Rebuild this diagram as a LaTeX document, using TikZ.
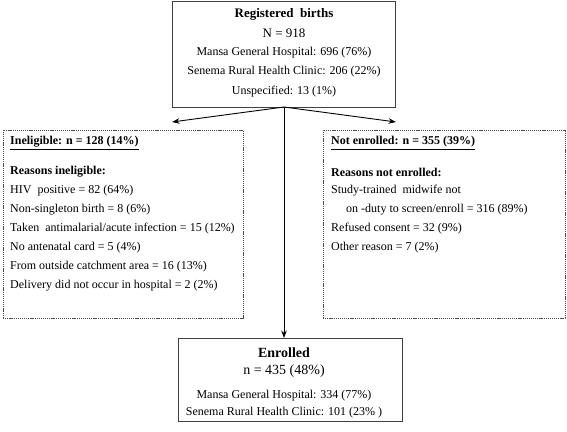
\documentclass[tikz,border=0pt]{standalone}
\usepackage{fontspec}
\setmainfont{Liberation Serif}
\usetikzlibrary{arrows.meta}
\begin{document}
\begin{tikzpicture}[x=1pt,y=-1pt,
  solidbox/.style={draw=black!75, line width=0.8pt, rectangle, inner sep=0pt},
  dashbox/.style={draw=black!70, line width=0.6pt, dash pattern=on 1.2pt off 0.9pt, rectangle, inner sep=0pt},
  ctext/.style={inner sep=0pt, anchor=center, font=\fontsize{12}{14}\selectfont},
  ltext/.style={inner sep=0pt, anchor=west, font=\fontsize{12}{14}\selectfont},
  head/.style={inner sep=0pt, anchor=center, font=\fontsize{13}{15}\selectfont\bfseries},
  arr/.style={-{Stealth[length=7.5pt,width=5.5pt]}, line width=0.9pt, black}
]
\useasboundingbox (0,0) rectangle (567,431);
\fill[white] (0,0) rectangle (567,431);

% boxes
\node[solidbox, minimum width=223pt, minimum height=106pt] (reg) at (283.5,54) {};
\node[dashbox, minimum width=240pt, minimum height=188pt] (inel) at (123,224) {};
\node[dashbox, minimum width=242pt, minimum height=188pt] (note) at (444,224) {};
\node[solidbox, minimum width=224pt, minimum height=83pt] (enr) at (290,379.5) {};

% top box text
\node[head] (r1) at (284,14) {Registered\ \ births};
\node[ctext, font=\fontsize{13}{15}\selectfont] (r2) at (284,33) {N = 918};
\node[ctext] (r3) at (284,53) {Mansa General Hospital: 696 (76\%)};
\node[ctext] (r4) at (284,72) {Senema Rural Health Clinic: 206 (22\%)};
\node[ctext] (r5) at (284,92) {Unspecified: 13 (1\%)};

% left box text
\node[ltext, font=\fontsize{12}{14}\selectfont\bfseries] (i0) at (10,143) {\underline{Ineligible: n = 128 (14\%)}};
\node[ltext, font=\fontsize{12}{14}\selectfont\bfseries] (i1) at (10,172) {Reasons ineligible:};
\node[ltext] (i2) at (10,191) {HIV\ \ positive = 82 (64\%)};
\node[ltext] (i3) at (10,210) {Non-singleton birth = 8 (6\%)};
\node[ltext] (i4) at (10,229) {Taken\ \ antimalarial/acute infection = 15 (12\%)};
\node[ltext] (i5) at (10,248) {No antenatal card = 5 (4\%)};
\node[ltext] (i6) at (10,267) {From outside catchment area = 16 (13\%)};
\node[ltext] (i7) at (10,286) {Delivery did not occur in hospital = 2 (2\%)};

% right box text
\node[ltext, font=\fontsize{12}{14}\selectfont\bfseries] (n0) at (331,143) {\underline{Not enrolled: n = 355 (39\%)}};
\node[ltext, font=\fontsize{12}{14}\selectfont\bfseries] (n1) at (331,172) {Reasons not enrolled:};
\node[ltext] (n2) at (331,191) {Study-trained\ \ midwife not};
\node[ltext] (n3) at (346,210) {on -duty to screen/enroll = 316 (89\%)};
\node[ltext] (n4) at (331,229) {Refused consent = 32 (9\%)};
\node[ltext] (n5) at (331,248) {Other reason = 7 (2\%)};

% enrolled box text
\node[head, font=\fontsize{14}{16}\selectfont\bfseries] (e1) at (284,353) {Enrolled};
\node[ctext, font=\fontsize{14}{16}\selectfont] (e2) at (284,371) {n = 435 (48\%)};
\node[ctext] (e3) at (284,396) {Mansa General Hospital: 334 (77\%)};
\node[ctext] (e4) at (284,413) {Senema Rural Health Clinic: 101 (23\% )};

% connectors
\coordinate (src) at (284,107);
\coordinate (ltip) at (172,122);
\coordinate (rtip) at (396,122);
\coordinate (btip) at (284,338);
\draw[arr] (src) -- (ltip);
\draw[arr] (src) -- (rtip);
\draw[arr] (src) -- (btip);
\end{tikzpicture}
\end{document}
